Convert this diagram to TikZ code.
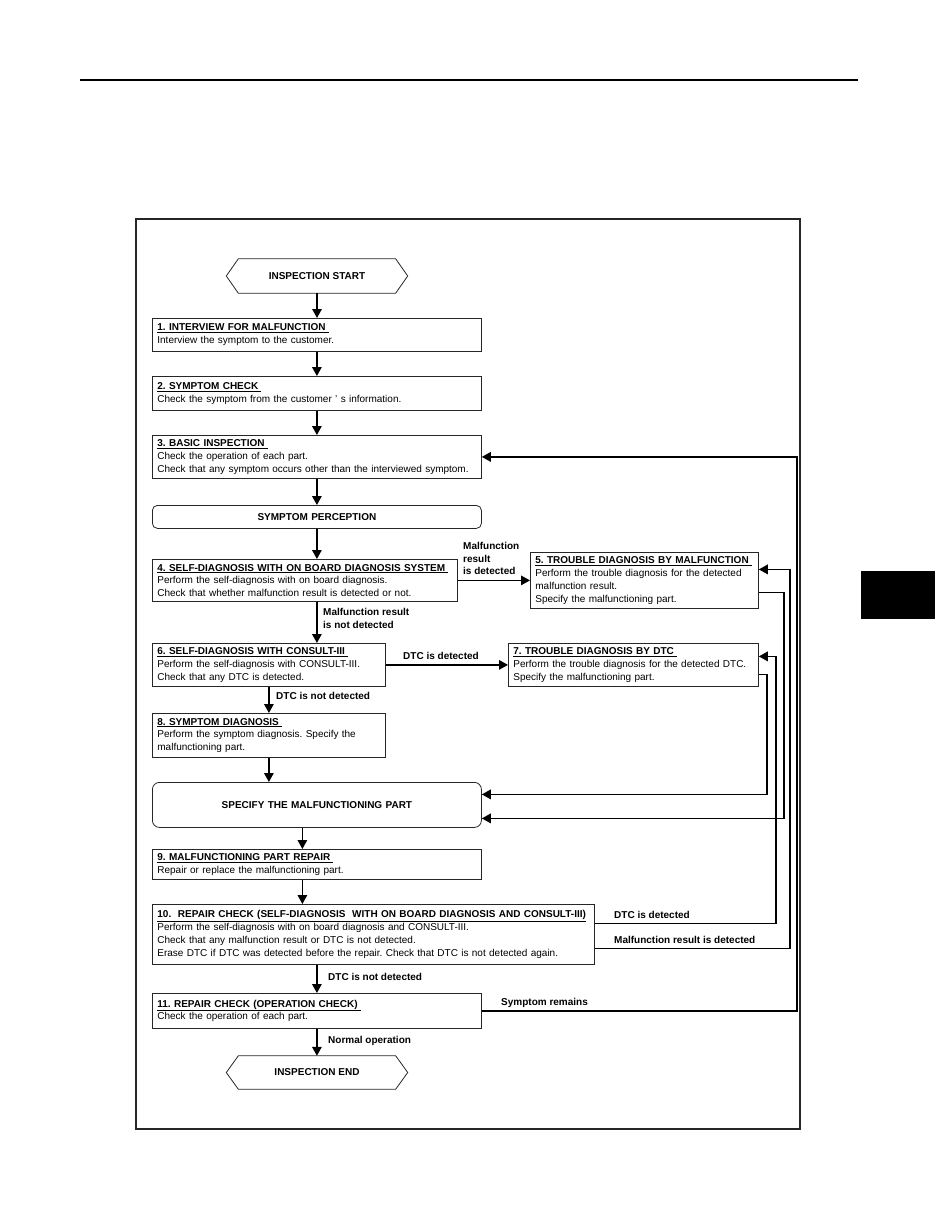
\documentclass[tikz,border=0pt]{standalone}
\usepackage{fontspec}
\setmainfont{Liberation Sans}
\usetikzlibrary{arrows.meta,calc}
\frenchspacing
\newcommand\fsz{\fontsize{10pt}{12.8pt}\selectfont\frenchspacing}
\newcommand\hd[1]{\underline{\textbf{#1}\hspace{3pt}}}
\tikzset{
  box/.style={draw=black!85, line width=0.8pt, anchor=north west, inner xsep=5pt, inner ysep=0pt, align=left, font=\fsz},
  term/.style={inner sep=0pt, align=center, font=\fsz\bfseries},
  arr/.style={-{Triangle[length=9pt,width=9.5pt]}, line width=1.6pt},
  lbl/.style={font=\fsz\bfseries, inner sep=0pt, anchor=base west},
  mlbl/.style={font=\fontsize{10pt}{12.5pt}\selectfont\bfseries, inner sep=0pt, anchor=north west, align=left},
}
\begin{document}
\begin{tikzpicture}[x=1pt,y=-1pt]
\useasboundingbox (0,0) rectangle (935,1210);
% page decorations
\draw[line width=2.6pt] (80,80) -- (858,80);
\fill (861,571) rectangle (935,619);
\draw[line width=1.3pt, black!85] (136,219) rectangle (800,1129);

% terminals
\node[term, minimum width=181pt, minimum height=34pt] (start) at (317,276) {INSPECTION START};
\draw[line width=0.8pt, black!85] (start.west) -- ([xshift=12pt]start.north west) -- ([xshift=-12pt]start.north east) -- (start.east) -- ([xshift=-12pt]start.south east) -- ([xshift=12pt]start.south west) -- cycle;
\node[term, minimum width=181pt, minimum height=33pt] (end) at (317,1072.5) {INSPECTION END};
\draw[line width=0.8pt, black!85] (end.west) -- ([xshift=12pt]end.north west) -- ([xshift=-12pt]end.north east) -- (end.east) -- ([xshift=-12pt]end.south east) -- ([xshift=12pt]end.south west) -- cycle;

% boxes
\node[box, minimum width=329pt, minimum height=33pt, text width=319pt] (b1) at (152,318)
  {\hd{1. INTERVIEW FOR MALFUNCTION}\\Interview the symptom to the customer.};
\node[box, minimum width=329pt, minimum height=34pt, text width=319pt] (b2) at (152,376)
  {\hd{2. SYMPTOM CHECK}\\Check the symptom from the customer ' s information.};
\node[box, minimum width=329pt, minimum height=43pt, text width=319pt] (b3) at (152,435)
  {\hd{3. BASIC INSPECTION}\\Check the operation of each part.\\Check that any symptom occurs other than the interviewed symptom.};
\node[box, rounded corners=5pt, minimum width=329pt, minimum height=23pt, text width=319pt, align=center, font=\fsz\bfseries] (sp) at (152,505)
  {SYMPTOM PERCEPTION};
\node[box, minimum width=305pt, minimum height=42pt, text width=295pt] (b4) at (152,559)
  {\hd{4. SELF-DIAGNOSIS WITH ON BOARD DIAGNOSIS SYSTEM}\\Perform the self-diagnosis with on board diagnosis.\\Check that whether malfunction result is detected or not.};
\node[box, minimum width=228pt, minimum height=56pt, text width=218pt] (b5) at (530,552)
  {\hd{5. TROUBLE DIAGNOSIS BY MALFUNCTION}\\Perform the trouble diagnosis for the detected\\malfunction result.\\Specify the malfunctioning part.};
\node[box, minimum width=233pt, minimum height=43pt, text width=223pt] (b6) at (152,643)
  {\hd{6. SELF-DIAGNOSIS WITH CONSULT-III}\\Perform the self-diagnosis with CONSULT-III.\\Check that any DTC is detected.};
\node[box, minimum width=250pt, minimum height=43pt, text width=240pt] (b7) at (508,643)
  {\hd{7. TROUBLE DIAGNOSIS BY DTC}\\Perform the trouble diagnosis for the detected DTC.\\Specify the malfunctioning part.};
\node[box, minimum width=233pt, minimum height=44pt, text width=223pt] (b8) at (152,713)
  {\hd{8. SYMPTOM DIAGNOSIS}\\Perform the symptom diagnosis. Specify the\\malfunctioning part.};
\node[box, rounded corners=7pt, minimum width=329pt, minimum height=45pt, text width=319pt, align=center, font=\fsz\bfseries] (spec) at (152,782)
  {SPECIFY THE MALFUNCTIONING PART};
\node[box, minimum width=329pt, minimum height=30pt, text width=319pt] (b9) at (152,849)
  {\hd{9. MALFUNCTIONING PART REPAIR}\\Repair or replace the malfunctioning part.};
\node[box, minimum width=442pt, minimum height=60pt, text width=432pt] (b10) at (152,904)
  {\underline{\textbf{10.\ \ REPAIR CHECK (SELF-DIAGNOSIS\ \ WITH ON BOARD DIAGNOSIS AND CONSULT-III)}}\\Perform the self-diagnosis with on board diagnosis and CONSULT-III.\\Check that any malfunction result or DTC is not detected.\\Erase DTC if DTC was detected before the repair. Check that DTC is not detected again.};
\node[box, minimum width=329pt, minimum height=35pt, text width=319pt] (b11) at (152,993)
  {\hd{11. REPAIR CHECK (OPERATION CHECK)}\\Check the operation of each part.};

% main flow
\draw[arr] (start.south) -- (start.south |- b1.north);
\draw[arr] (b1.south) -- (b1.south |- b2.north);
\draw[arr] (b2.south) -- (b2.south |- b3.north);
\draw[arr] (b3.south) -- (b3.south |- sp.north);
\draw[arr] (sp.south) -- (sp.south |- b4.north);
\draw[arr] (b4.south -| sp.south) -- (b6.north -| sp.south);
\draw[arr] (b4.east) -- (b5.west);
\draw[arr] (b6.east) -- (b7.west);
\draw[arr] (b6.south) -- (b6.south |- b8.north);
\draw[arr] (b8.south) -- (b8.south |- spec.north);
\coordinate (c8) at ([xshift=-14.5pt]spec.south);
\draw[arr] (c8) -- (c8 |- b9.north);
\coordinate (c9) at ([xshift=-14.5pt]b9.south);
\draw[arr] (c9) -- (c9 |- b10.north);
\draw[arr] (b10.south -| b11.north) -- (b11.north);
\draw[arr] (b11.south) -- (b11.south |- end.north);

% feedback connectors
\draw[arr] ([yshift=-12pt]b5.east) -- ++(25,0) |- ([yshift=-13.5pt]spec.east);
\draw[arr] ([yshift=-9.5pt]b7.east) -- ++(8,0) |- ([yshift=10.5pt]spec.east);
\draw[arr] ([yshift=11pt]b10.east) -- ++(181,0) |- ([yshift=8.5pt]b7.east);
\draw[arr] ([yshift=-14pt]b10.east) -- ++(195,0) |- ([yshift=11pt]b5.east);
\draw[arr] (b11.east) -- ++(315,0) |- (b3.east);

% labels
\node[mlbl] (l1) at (463,542.5) {Malfunction\\result\\is detected};
\node[mlbl] (l2) at (323,608.5) {Malfunction result\\is not detected};
\node[lbl] (l3) at (403,659) {DTC is detected};
\node[lbl] (l4) at (276,699) {DTC is not detected};
\node[lbl] (l5) at (614,918) {DTC is detected};
\node[lbl] (l6) at (614,943) {Malfunction result is detected};
\node[lbl] (l7) at (328,980) {DTC is not detected};
\node[lbl] (l8) at (501,1005) {Symptom remains};
\node[lbl] (l9) at (328,1043) {Normal operation};
\end{tikzpicture}
\end{document}
